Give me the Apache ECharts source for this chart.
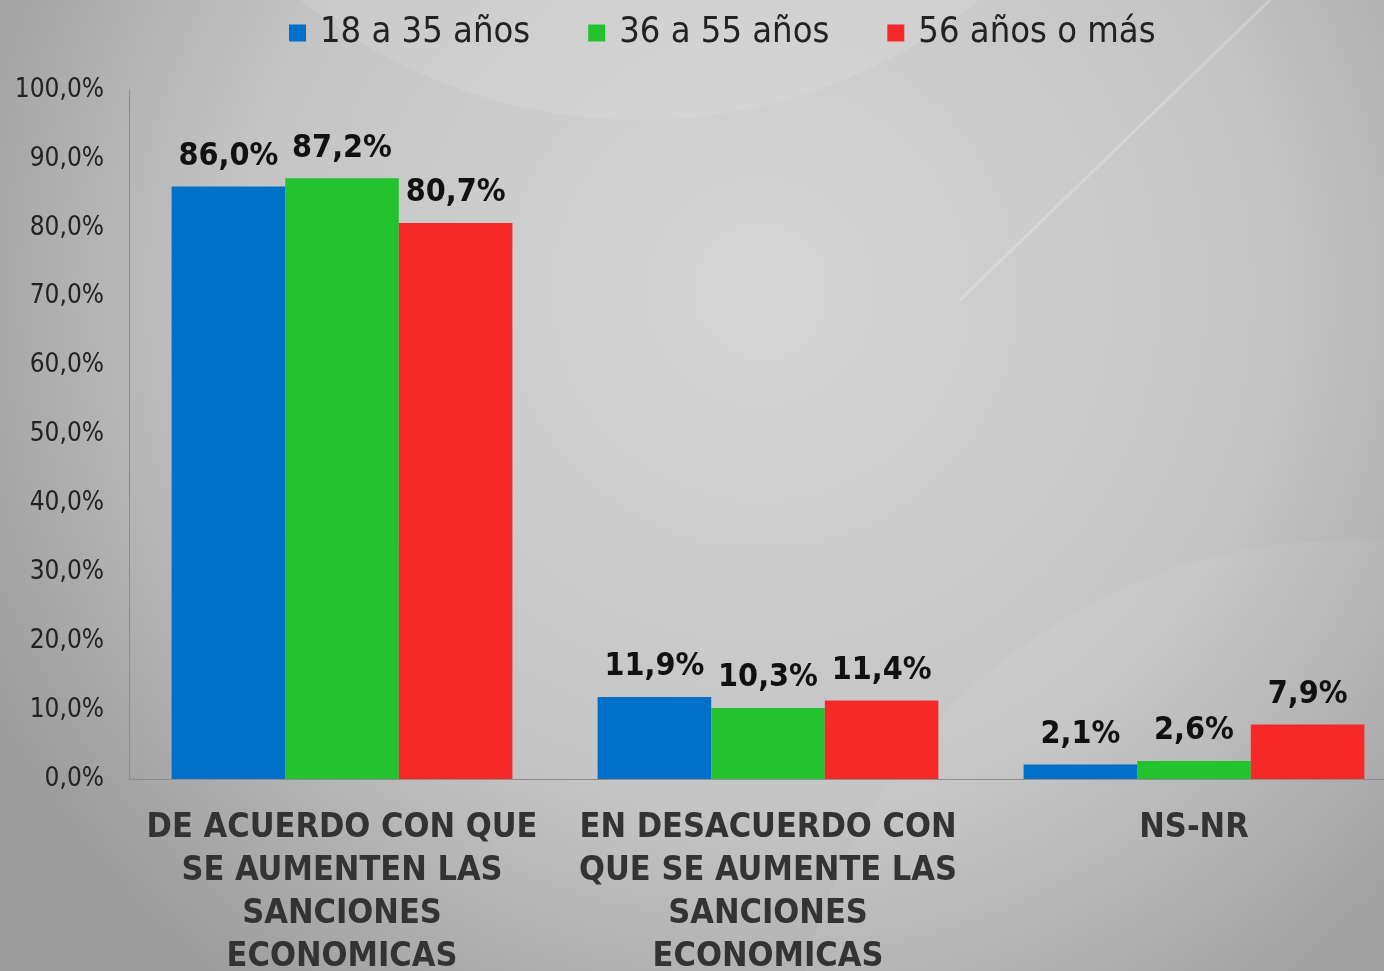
<!DOCTYPE html>
<html>
<head>
<meta charset="utf-8">
<script src="https://cdn.jsdelivr.net/npm/echarts@6/dist/echarts.min.js"></script>
<style>
  html, body { margin: 0; padding: 0; }
  #chart { width: 1384px; height: 971px; }
</style>
</head>
<body>
<div id="chart"></div>
<script>
// categorías y series
var categories = [
  'DE ACUERDO CON QUE\nSE AUMENTEN LAS\nSANCIONES\nECONOMICAS',
  'EN DESACUERDO CON\nQUE SE AUMENTE LAS\nSANCIONES\nECONOMICAS',
  'NS-NR'
];
var seriesNames = ['18 a 35 años', '36 a 55 años', '56 años o más'];
var joven = [86.0, 11.9, 2.1];
var medio = [87.2, 10.3, 2.6];
var mayor = [80.7, 11.4, 7.9];
var colores = ['#0070c8', '#22c32e', '#f62828'];

var fuente = '"DejaVu Sans Condensed", "DejaVu Sans", sans-serif';

function pct(v) {
  return v.toFixed(1).replace('.', ',') + '%';
}

function makeSeries(name, data, color) {
  return {
    name: name,
    type: 'bar',
    data: data,
    barGap: 0,
    barCategoryGap: '20%',
    itemStyle: { color: color },
    label: {
      show: true,
      position: 'top',
      distance: 14,
      color: '#111',
      fontFamily: fuente,
      fontWeight: 'bold',
      fontSize: 32,
      formatter: function (p) { return pct(p.value); }
    }
  };
}

var chart = echarts.init(document.getElementById('chart'));
var option = {
  animation: false,
  backgroundColor: new echarts.graphic.RadialGradient(0.55, 0.3, 0.9, [
    { offset: 0, color: '#d6d6d6' },
    { offset: 0.6, color: '#c4c4c4' },
    { offset: 1, color: '#9c9c9c' }
  ]),
  graphic: [
    {
      type: 'circle',
      silent: true,
      z: -1,
      shape: { cx: 640, cy: -420, r: 540 },
      style: { fill: 'rgba(255,255,255,0.10)' }
    },
    {
      type: 'circle',
      silent: true,
      z: -1,
      shape: { cx: 1350, cy: 1100, r: 560 },
      style: { fill: 'rgba(255,255,255,0.06)' }
    },
    {
      type: 'line',
      silent: true,
      z: -1,
      shape: { x1: 960, y1: 300, x2: 1270, y2: 0 },
      style: { stroke: 'rgba(255,255,255,0.22)', lineWidth: 3 }
    }
  ],
  legend: {
    top: 10,
    left: 284,
    itemWidth: 17,
    itemHeight: 17,
    itemGap: 58,
    icon: 'rect',
    textStyle: {
      fontFamily: fuente,
      fontSize: 36,
      color: '#222',
      padding: [0, 0, 0, 9]
    },
    data: seriesNames
  },
  grid: {
    left: 129,
    top: 90,
    right: -23,
    bottom: 192,
    containLabel: false,
    outerBoundsMode: 'none'
  },
  xAxis: {
    type: 'category',
    data: categories,
    axisLine: { lineStyle: { color: '#8c8c8c', width: 1 } },
    axisTick: { show: false },
    axisLabel: {
      margin: 28,
      color: '#333',
      fontFamily: fuente,
      fontWeight: 'bold',
      fontSize: 34,
      lineHeight: 43,
      interval: 0
    }
  },
  yAxis: {
    type: 'value',
    min: 0,
    max: 100,
    interval: 10,
    axisLine: { show: true, lineStyle: { color: '#8c8c8c', width: 1 } },
    axisTick: { show: false },
    splitLine: { show: false },
    axisLabel: {
      margin: 25,
      color: '#222',
      fontFamily: fuente,
      fontSize: 26,
      formatter: function (v) { return pct(v); }
    }
  },
  series: [
    makeSeries(seriesNames[0], joven, colores[0]),
    makeSeries(seriesNames[1], medio, colores[1]),
    makeSeries(seriesNames[2], mayor, colores[2])
  ]
};
chart.setOption(option);
</script>
</body>
</html>
